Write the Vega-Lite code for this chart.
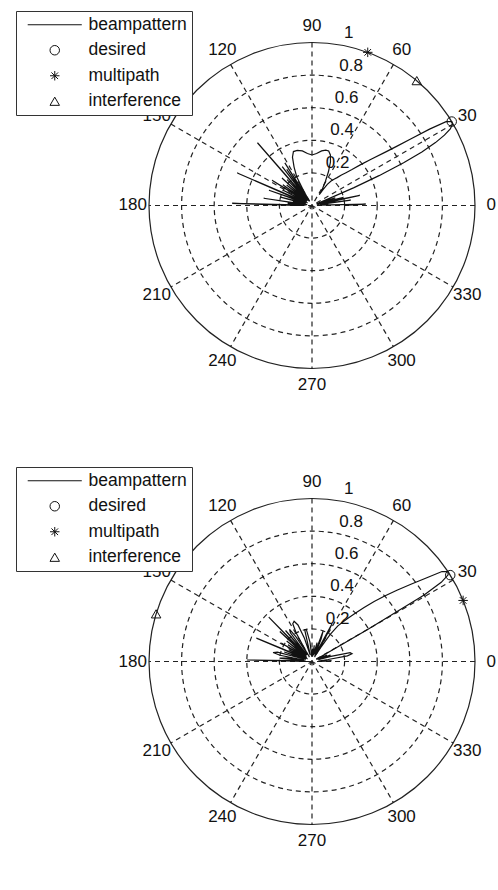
{
"$schema": "https://vega.github.io/schema/vega-lite/v6.json",
"padding": 0,
"spacing": 0,
"background": "white",
"config": {"view": {"stroke": null}, "font": "Liberation Sans", "text": {"font": "Liberation Sans", "fontSize": 17, "color": "#111"}},
"resolve": {"scale": {"shape": "independent", "size": "independent"}, "legend": {"shape": "independent"}},
"datasets": {
"rings": [{"r": 0.2}, {"r": 0.4}, {"r": 0.6}, {"r": 0.8}],
"outer": [{"r": 1}],
"spokes": [{"theta": 0}, {"theta": 30}, {"theta": 60}, {"theta": 90}, {"theta": 120}, {"theta": 150}],
"angles": [{"theta": 0}, {"theta": 30}, {"theta": 60}, {"theta": 90}, {"theta": 120}, {"theta": 150}, {"theta": 180}, {"theta": 210}, {"theta": 240}, {"theta": 270}, {"theta": 300}, {"theta": 330}],
"radii": [{"r": 0.2}, {"r": 0.4}, {"r": 0.6}, {"r": 0.8}, {"r": 1}],
"patA": [
{"theta":0,"r":0.2},{"theta":1.5,"r":0.33},{"theta":3,"r":0.05},{"theta":5,"r":0.1},{"theta":6,"r":0.03},{"theta":8,"r":0.24},{"theta":9.5,"r":0.05},{"theta":12,"r":0.3},{"theta":13,"r":0.1},{"theta":14.5,"r":0.2},{"theta":16,"r":0.04},{"theta":18,"r":0.15},{"theta":20,"r":0.03},{"theta":22,"r":0.1},{"theta":23,"r":0.28},{"theta":24,"r":0.45},{"theta":25,"r":0.62},{"theta":26,"r":0.75},{"theta":27,"r":0.85},{"theta":28,"r":0.92},{"theta":29,"r":0.97},{"theta":30,"r":0.995},{"theta":31,"r":1.0},{"theta":32,"r":0.97},{"theta":33,"r":0.86},{"theta":34,"r":0.73},{"theta":35,"r":0.63},{"theta":36,"r":0.56},{"theta":38,"r":0.46},{"theta":40,"r":0.39},{"theta":42,"r":0.33},{"theta":44,"r":0.29},{"theta":46,"r":0.26},{"theta":48,"r":0.23},{"theta":50,"r":0.21},{"theta":52,"r":0.19},{"theta":54,"r":0.16},{"theta":55,"r":0.12},{"theta":56,"r":0.08},{"theta":58,"r":0.12},{"theta":61,"r":0.17},{"theta":64,"r":0.23},{"theta":67,"r":0.29},{"theta":70,"r":0.33},{"theta":73,"r":0.35},{"theta":76,"r":0.35},{"theta":80,"r":0.34},{"theta":85,"r":0.32},{"theta":90,"r":0.31},{"theta":95,"r":0.32},{"theta":100,"r":0.34},{"theta":105,"r":0.35},{"theta":109,"r":0.35},{"theta":112,"r":0.32},{"theta":115,"r":0.26},{"theta":118,"r":0.2},{"theta":120,"r":0.1},{"theta":121,"r":0.03},{"theta":122.5,"r":0.31},{"theta":123.5,"r":0.04},{"theta":125,"r":0.27},{"theta":126,"r":0.04},{"theta":127.5,"r":0.3},{"theta":128.5,"r":0.04},{"theta":131,"r":0.51},{"theta":132,"r":0.05},{"theta":134,"r":0.22},{"theta":135,"r":0.04},{"theta":137.5,"r":0.25},{"theta":138.5,"r":0.05},{"theta":141,"r":0.2},{"theta":142,"r":0.04},{"theta":144.5,"r":0.22},{"theta":145.5,"r":0.05},{"theta":147.7,"r":0.29},{"theta":148.7,"r":0.05},{"theta":152,"r":0.2},{"theta":153,"r":0.04},{"theta":156.5,"r":0.5},{"theta":157.5,"r":0.05},{"theta":160.5,"r":0.28},{"theta":161.5,"r":0.04},{"theta":165,"r":0.2},{"theta":166,"r":0.04},{"theta":168,"r":0.12},{"theta":169,"r":0.03},{"theta":171.5,"r":0.3},{"theta":172.5,"r":0.04},{"theta":175,"r":0.15},{"theta":176,"r":0.04},{"theta":178.5,"r":0.49},{"theta":179.5,"r":0.1},{"theta":180,"r":0.05}
],
"patB": [
{"theta":0,"r":0.05},{"theta":2,"r":0.12},{"theta":4,"r":0.04},{"theta":7,"r":0.1},{"theta":9,"r":0.22},{"theta":11,"r":0.25},{"theta":13,"r":0.24},{"theta":15,"r":0.12},{"theta":17,"r":0.04},{"theta":19,"r":0.12},{"theta":20.5,"r":0.04},{"theta":23,"r":0.1},{"theta":25,"r":0.03},{"theta":27,"r":0.08},{"theta":28.5,"r":0.03},{"theta":29.5,"r":0.15},{"theta":30,"r":0.4},{"theta":30.7,"r":0.8},{"theta":31.5,"r":0.93},{"theta":32.5,"r":0.99},{"theta":33.5,"r":1.0},{"theta":34.7,"r":0.97},{"theta":36,"r":0.88},{"theta":38,"r":0.77},{"theta":40,"r":0.68},{"theta":42,"r":0.6},{"theta":44,"r":0.53},{"theta":46,"r":0.46},{"theta":48,"r":0.4},{"theta":50,"r":0.35},{"theta":52,"r":0.31},{"theta":54,"r":0.27},{"theta":56,"r":0.2},{"theta":58,"r":0.1},{"theta":59,"r":0.05},{"theta":61,"r":0.2},{"theta":62,"r":0.26},{"theta":63,"r":0.1},{"theta":65,"r":0.04},{"theta":68,"r":0.15},{"theta":70,"r":0.2},{"theta":71,"r":0.05},{"theta":75,"r":0.12},{"theta":77,"r":0.04},{"theta":82,"r":0.1},{"theta":84,"r":0.03},{"theta":88,"r":0.08},{"theta":92,"r":0.03},{"theta":96,"r":0.12},{"theta":100,"r":0.2},{"theta":103,"r":0.2},{"theta":105,"r":0.04},{"theta":108,"r":0.15},{"theta":111,"r":0.24},{"theta":114,"r":0.27},{"theta":117,"r":0.26},{"theta":119,"r":0.2},{"theta":121,"r":0.05},{"theta":123,"r":0.18},{"theta":125,"r":0.24},{"theta":127,"r":0.22},{"theta":128,"r":0.05},{"theta":130.5,"r":0.25},{"theta":131.5,"r":0.05},{"theta":134.3,"r":0.38},{"theta":135.3,"r":0.05},{"theta":137,"r":0.27},{"theta":138,"r":0.05},{"theta":141,"r":0.2},{"theta":142,"r":0.04},{"theta":145,"r":0.18},{"theta":146,"r":0.04},{"theta":149,"r":0.22},{"theta":150,"r":0.05},{"theta":153,"r":0.16},{"theta":154,"r":0.04},{"theta":157.2,"r":0.37},{"theta":158.2,"r":0.05},{"theta":161,"r":0.18},{"theta":162,"r":0.04},{"theta":165,"r":0.22},{"theta":167,"r":0.245},{"theta":169,"r":0.2},{"theta":170,"r":0.05},{"theta":172,"r":0.15},{"theta":174,"r":0.2},{"theta":175,"r":0.04},{"theta":178.7,"r":0.4},{"theta":179.6,"r":0.05},{"theta":180,"r":0.02}
],
"mkA": [{"series": "desired", "theta": 31, "r": 1}, {"series": "multipath", "theta": 70, "r": 1}, {"series": "interference", "theta": 50, "r": 1}],
"mkB": [{"series": "desired", "theta": 32, "r": 1}, {"series": "multipath", "theta": 22, "r": 1}, {"series": "interference", "theta": 163, "r": 1}]
},
"vconcat": [
{
"width": 498, "height": 445,
"layer": [
{"data": {"name": "rings"},
 "mark": {"type": "point", "shape": "circle", "filled": false, "opacity": 1, "stroke": "#222", "strokeWidth": 1.2, "strokeDash": [5, 4]},
 "encoding": {
  "x": {"datum": 0, "type": "quantitative", "scale": {"domain": [-1.9141, 1.1411], "nice": false, "zero": false}, "axis": null},
  "y": {"datum": 0, "type": "quantitative", "scale": {"domain": [-1.4693, 1.2607], "nice": false, "zero": false}, "axis": null},
  "size": {"field": "r", "type": "quantitative", "scale": {"type": "pow", "exponent": 2, "domain": [0, 1], "range": [0, 106276]}, "legend": null}}},
{"data": {"name": "outer"},
 "mark": {"type": "point", "shape": "circle", "filled": false, "opacity": 1, "stroke": "#222", "strokeWidth": 1.2},
 "encoding": {
  "x": {"datum": 0, "type": "quantitative", "scale": {"domain": [-1.9141, 1.1411], "nice": false, "zero": false}, "axis": null},
  "y": {"datum": 0, "type": "quantitative", "scale": {"domain": [-1.4693, 1.2607], "nice": false, "zero": false}, "axis": null},
  "size": {"field": "r", "type": "quantitative", "scale": {"type": "pow", "exponent": 2, "domain": [0, 1], "range": [0, 106276]}, "legend": null}}},
{"data": {"name": "spokes"},
 "transform": [{"calculate": "cos(datum.theta*PI/180)", "as": "x"}, {"calculate": "sin(datum.theta*PI/180)", "as": "y"}, {"calculate": "-datum.x", "as": "x2"}, {"calculate": "-datum.y", "as": "y2"}],
 "mark": {"type": "rule", "stroke": "#222", "strokeWidth": 1.2, "strokeDash": [5, 4]},
 "encoding": {
  "x": {"field": "x", "type": "quantitative", "scale": {"domain": [-1.9141, 1.1411], "nice": false, "zero": false}, "axis": null},
  "y": {"field": "y", "type": "quantitative", "scale": {"domain": [-1.4693, 1.2607], "nice": false, "zero": false}, "axis": null},
  "x2": {"field": "x2"}, "y2": {"field": "y2"}}},
{"data": {"name": "angles"},
 "transform": [{"calculate": "1.1*cos(datum.theta*PI/180)", "as": "x"}, {"calculate": "1.1*sin(datum.theta*PI/180)", "as": "y"}],
 "mark": {"type": "text", "align": "center", "baseline": "middle", "fontSize": 17},
 "encoding": {
  "x": {"field": "x", "type": "quantitative", "scale": {"domain": [-1.9141, 1.1411], "nice": false, "zero": false}, "axis": null},
  "y": {"field": "y", "type": "quantitative", "scale": {"domain": [-1.4693, 1.2607], "nice": false, "zero": false}, "axis": null},
  "text": {"field": "theta", "type": "nominal"}}},
{"data": {"name": "radii"},
 "transform": [{"calculate": "(datum.r+0.01)*cos(82*PI/180)", "as": "x"}, {"calculate": "(datum.r+0.01)*sin(82*PI/180)", "as": "y"}],
 "mark": {"type": "text", "align": "left", "baseline": "bottom", "dx": 9, "fontSize": 17},
 "encoding": {
  "x": {"field": "x", "type": "quantitative", "scale": {"domain": [-1.9141, 1.1411], "nice": false, "zero": false}, "axis": null},
  "y": {"field": "y", "type": "quantitative", "scale": {"domain": [-1.4693, 1.2607], "nice": false, "zero": false}, "axis": null},
  "text": {"field": "r", "type": "nominal"}}},
{"data": {"name": "patA"},
 "transform": [{"calculate": "datum.r*cos(datum.theta*PI/180)", "as": "x"}, {"calculate": "datum.r*sin(datum.theta*PI/180)", "as": "y"}],
 "mark": {"type": "line", "stroke": "#111", "strokeWidth": 1.2},
 "encoding": {
  "x": {"field": "x", "type": "quantitative", "scale": {"domain": [-1.9141, 1.1411], "nice": false, "zero": false}, "axis": null},
  "y": {"field": "y", "type": "quantitative", "scale": {"domain": [-1.4693, 1.2607], "nice": false, "zero": false}, "axis": null},
  "order": {"field": "theta", "type": "quantitative"}}},
{"data": {"name": "mkA"},
 "transform": [{"calculate": "datum.r*cos(datum.theta*PI/180)", "as": "x"}, {"calculate": "datum.r*sin(datum.theta*PI/180)", "as": "y"}],
 "mark": {"type": "point", "filled": false, "opacity": 1, "color": "#111", "strokeWidth": 1, "size": 90},
 "encoding": {
  "x": {"field": "x", "type": "quantitative", "scale": {"domain": [-1.9141, 1.1411], "nice": false, "zero": false}, "axis": null},
  "y": {"field": "y", "type": "quantitative", "scale": {"domain": [-1.4693, 1.2607], "nice": false, "zero": false}, "axis": null},
  "shape": {"field": "series", "type": "nominal",
   "scale": {"domain": ["beampattern", "desired", "multipath", "interference"], "range": ["M-5.7,0L5.7,0", "circle", "M-1,0L1,0M0,-1L0,1M-0.7,-0.7L0.7,0.7M-0.7,0.7L0.7,-0.7", "triangle-up"]},
   "legend": {"title": null, "orient": "none", "legendX": 16, "legendY": 11, "direction": "vertical", "strokeColor": "#333", "fillColor": "white", "padding": 5, "labelFont": "Liberation Sans", "labelFontSize": 17.5, "labelColor": "#111", "symbolStrokeColor": "#111", "symbolStrokeWidth": 1, "symbolFillColor": "transparent", "symbolSize": 90, "symbolOffset": 25, "labelOffset": 25, "rowPadding": 6.5}}}},
{"mark": {"type": "text", "align": "center", "baseline": "middle", "fontSize": 17},
 "encoding": {
  "x": {"datum": 0.699, "type": "quantitative", "scale": {"domain": [-1.9141, 1.1411], "nice": false, "zero": false}, "axis": null},
  "y": {"datum": 1.15, "type": "quantitative", "scale": {"domain": [-1.4693, 1.2607], "nice": false, "zero": false}, "axis": null},
  "text": {"value": "TI C6713"}}},
{"mark": {"type": "text", "align": "center", "baseline": "middle", "fontSize": 17, "fontStyle": "italic"},
 "encoding": {
  "x": {"datum": -0.05, "type": "quantitative", "scale": {"domain": [-1.9141, 1.1411], "nice": false, "zero": false}, "axis": null},
  "y": {"datum": -1.39, "type": "quantitative", "scale": {"domain": [-1.4693, 1.2607], "nice": false, "zero": false}, "axis": null},
  "text": {"value": "a"}}}
]
},
{
"width": 498, "height": 445,
"layer": [
{"data": {"name": "rings"},
 "mark": {"type": "point", "shape": "circle", "filled": false, "opacity": 1, "stroke": "#222", "strokeWidth": 1.2, "strokeDash": [5, 4]},
 "encoding": {
  "x": {"datum": 0, "type": "quantitative", "scale": {"domain": [-1.9141, 1.1411], "nice": false, "zero": false}, "axis": null},
  "y": {"datum": 0, "type": "quantitative", "scale": {"domain": [-1.4018, 1.3282], "nice": false, "zero": false}, "axis": null},
  "size": {"field": "r", "type": "quantitative", "scale": {"type": "pow", "exponent": 2, "domain": [0, 1], "range": [0, 106276]}, "legend": null}}},
{"data": {"name": "outer"},
 "mark": {"type": "point", "shape": "circle", "filled": false, "opacity": 1, "stroke": "#222", "strokeWidth": 1.2},
 "encoding": {
  "x": {"datum": 0, "type": "quantitative", "scale": {"domain": [-1.9141, 1.1411], "nice": false, "zero": false}, "axis": null},
  "y": {"datum": 0, "type": "quantitative", "scale": {"domain": [-1.4018, 1.3282], "nice": false, "zero": false}, "axis": null},
  "size": {"field": "r", "type": "quantitative", "scale": {"type": "pow", "exponent": 2, "domain": [0, 1], "range": [0, 106276]}, "legend": null}}},
{"data": {"name": "spokes"},
 "transform": [{"calculate": "cos(datum.theta*PI/180)", "as": "x"}, {"calculate": "sin(datum.theta*PI/180)", "as": "y"}, {"calculate": "-datum.x", "as": "x2"}, {"calculate": "-datum.y", "as": "y2"}],
 "mark": {"type": "rule", "stroke": "#222", "strokeWidth": 1.2, "strokeDash": [5, 4]},
 "encoding": {
  "x": {"field": "x", "type": "quantitative", "scale": {"domain": [-1.9141, 1.1411], "nice": false, "zero": false}, "axis": null},
  "y": {"field": "y", "type": "quantitative", "scale": {"domain": [-1.4018, 1.3282], "nice": false, "zero": false}, "axis": null},
  "x2": {"field": "x2"}, "y2": {"field": "y2"}}},
{"data": {"name": "angles"},
 "transform": [{"calculate": "1.1*cos(datum.theta*PI/180)", "as": "x"}, {"calculate": "1.1*sin(datum.theta*PI/180)", "as": "y"}],
 "mark": {"type": "text", "align": "center", "baseline": "middle", "fontSize": 17},
 "encoding": {
  "x": {"field": "x", "type": "quantitative", "scale": {"domain": [-1.9141, 1.1411], "nice": false, "zero": false}, "axis": null},
  "y": {"field": "y", "type": "quantitative", "scale": {"domain": [-1.4018, 1.3282], "nice": false, "zero": false}, "axis": null},
  "text": {"field": "theta", "type": "nominal"}}},
{"data": {"name": "radii"},
 "transform": [{"calculate": "(datum.r+0.01)*cos(82*PI/180)", "as": "x"}, {"calculate": "(datum.r+0.01)*sin(82*PI/180)", "as": "y"}],
 "mark": {"type": "text", "align": "left", "baseline": "bottom", "dx": 9, "fontSize": 17},
 "encoding": {
  "x": {"field": "x", "type": "quantitative", "scale": {"domain": [-1.9141, 1.1411], "nice": false, "zero": false}, "axis": null},
  "y": {"field": "y", "type": "quantitative", "scale": {"domain": [-1.4018, 1.3282], "nice": false, "zero": false}, "axis": null},
  "text": {"field": "r", "type": "nominal"}}},
{"data": {"name": "patB"},
 "transform": [{"calculate": "datum.r*cos(datum.theta*PI/180)", "as": "x"}, {"calculate": "datum.r*sin(datum.theta*PI/180)", "as": "y"}],
 "mark": {"type": "line", "stroke": "#111", "strokeWidth": 1.2},
 "encoding": {
  "x": {"field": "x", "type": "quantitative", "scale": {"domain": [-1.9141, 1.1411], "nice": false, "zero": false}, "axis": null},
  "y": {"field": "y", "type": "quantitative", "scale": {"domain": [-1.4018, 1.3282], "nice": false, "zero": false}, "axis": null},
  "order": {"field": "theta", "type": "quantitative"}}},
{"data": {"name": "mkB"},
 "transform": [{"calculate": "datum.r*cos(datum.theta*PI/180)", "as": "x"}, {"calculate": "datum.r*sin(datum.theta*PI/180)", "as": "y"}],
 "mark": {"type": "point", "filled": false, "opacity": 1, "color": "#111", "strokeWidth": 1, "size": 90},
 "encoding": {
  "x": {"field": "x", "type": "quantitative", "scale": {"domain": [-1.9141, 1.1411], "nice": false, "zero": false}, "axis": null},
  "y": {"field": "y", "type": "quantitative", "scale": {"domain": [-1.4018, 1.3282], "nice": false, "zero": false}, "axis": null},
  "shape": {"field": "series", "type": "nominal",
   "scale": {"domain": ["beampattern", "desired", "multipath", "interference"], "range": ["M-5.7,0L5.7,0", "circle", "M-1,0L1,0M0,-1L0,1M-0.7,-0.7L0.7,0.7M-0.7,0.7L0.7,-0.7", "triangle-up"]},
   "legend": {"title": null, "orient": "none", "legendX": 16, "legendY": 22, "direction": "vertical", "strokeColor": "#333", "fillColor": "white", "padding": 5, "labelFont": "Liberation Sans", "labelFontSize": 17.5, "labelColor": "#111", "symbolStrokeColor": "#111", "symbolStrokeWidth": 1, "symbolFillColor": "transparent", "symbolSize": 90, "symbolOffset": 25, "labelOffset": 25, "rowPadding": 6.5}}}},
{"mark": {"type": "text", "align": "center", "baseline": "middle", "fontSize": 17},
 "encoding": {
  "x": {"datum": 0.681, "type": "quantitative", "scale": {"domain": [-1.9141, 1.1411], "nice": false, "zero": false}, "axis": null},
  "y": {"datum": 1.138, "type": "quantitative", "scale": {"domain": [-1.4018, 1.3282], "nice": false, "zero": false}, "axis": null},
  "text": {"value": "VIRTEX IV"}}},
{"mark": {"type": "text", "align": "center", "baseline": "middle", "fontSize": 17, "fontStyle": "italic"},
 "encoding": {
  "x": {"datum": -0.05, "type": "quantitative", "scale": {"domain": [-1.9141, 1.1411], "nice": false, "zero": false}, "axis": null},
  "y": {"datum": -1.353, "type": "quantitative", "scale": {"domain": [-1.4018, 1.3282], "nice": false, "zero": false}, "axis": null},
  "text": {"value": "b"}}}
]
}
]
}
